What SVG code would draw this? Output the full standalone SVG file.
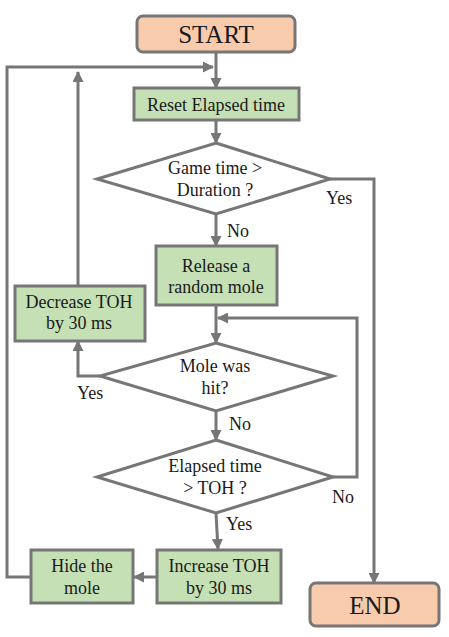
<svg xmlns="http://www.w3.org/2000/svg" width="449" height="637" viewBox="0 0 449 637" font-family="Liberation Serif, serif">
<style>
.term{fill:#F8CBAD;stroke:#767676;stroke-width:3}
.box{fill:#C5E0B4;stroke:#767676;stroke-width:3}
.dec{fill:#FFFFFF;stroke:#767676;stroke-width:3}
text{font-size:18px;fill:#1a1a1a}
.t{text-anchor:middle}
.big{font-size:25px}
.c{fill:none;stroke:#767676;stroke-width:3}
</style>
<defs>
<marker id="ah" markerUnits="userSpaceOnUse" markerWidth="11" markerHeight="11" refX="10" refY="5.5" orient="auto">
<path d="M0,0 L11,5.5 L0,11 z" fill="#767676"/>
</marker>
</defs>
<rect width="449" height="637" fill="#FFFFFF"/>
<g id="connectors">
<path class="c" d="M216 52 V88" marker-end="url(#ah)"/>
<path class="c" d="M31 577 H7 V67 H213" marker-end="url(#ah)"/>
<path class="c" d="M78 286 V72" marker-end="url(#ah)"/>
<path class="c" d="M216 120 V143" marker-end="url(#ah)"/>
<path class="c" d="M330 179 H374 V583" marker-end="url(#ah)"/>
<path class="c" d="M216 214 V246" marker-end="url(#ah)"/>
<path class="c" d="M216 305 V343" marker-end="url(#ah)"/>
<path class="c" d="M333 477 H357 V318 H218" marker-end="url(#ah)"/>
<path class="c" d="M100 376 H78 V341" marker-end="url(#ah)"/>
<path class="c" d="M216 411 V440" marker-end="url(#ah)"/>
<path class="c" d="M216 513 L218 549" marker-end="url(#ah)"/>
<path class="c" d="M157 577 H134" marker-end="url(#ah)"/>
<text x="326" y="204">Yes</text>
<text x="227" y="237">No</text>
<text x="77" y="399">Yes</text>
<text x="229" y="430">No</text>
<text x="332" y="503">No</text>
<text x="226" y="530">Yes</text>
</g>
<g id="start">
<rect class="term" x="137" y="16" width="158" height="36" rx="6"/>
<text class="t big" x="216" y="43">START</text>
</g>
<g id="reset">
<rect class="box" x="134" y="88" width="165" height="32"/>
<text class="t" x="216" y="111">Reset Elapsed time</text>
</g>
<g id="game-time">
<polygon class="dec" points="216,143 330,179 216,214 97,179"/>
<text class="t" x="215" y="174">Game time &gt;</text>
<text class="t" x="215" y="196">Duration ?</text>
</g>
<g id="release">
<rect class="box" x="156" y="246" width="121" height="59"/>
<text class="t" x="216" y="272">Release a</text>
<text class="t" x="216" y="293">random mole</text>
</g>
<g id="decrease">
<rect class="box" x="15" y="286" width="130" height="55"/>
<text class="t" x="79" y="308">Decrease TOH</text>
<text class="t" x="79" y="329">by 30 ms</text>
</g>
<g id="mole-hit">
<polygon class="dec" points="216,343 333,376 216,411 100,376"/>
<text class="t" x="215" y="372">Mole was</text>
<text class="t" x="215" y="394">hit?</text>
</g>
<g id="elapsed">
<polygon class="dec" points="216,440 333,477 216,513 97,477"/>
<text class="t" x="215" y="472">Elapsed time</text>
<text class="t" x="215" y="494">&gt; TOH ?</text>
</g>
<g id="increase">
<rect class="box" x="157" y="550" width="124" height="53"/>
<text class="t" x="219" y="572">Increase TOH</text>
<text class="t" x="219" y="594">by 30 ms</text>
</g>
<g id="hide">
<rect class="box" x="31" y="550" width="102" height="53"/>
<text class="t" x="82" y="572">Hide the</text>
<text class="t" x="82" y="594">mole</text>
</g>
<g id="end">
<rect class="term" x="310" y="583" width="129" height="43" rx="6"/>
<text class="t big" x="375" y="614">END</text>
</g>
</svg>
